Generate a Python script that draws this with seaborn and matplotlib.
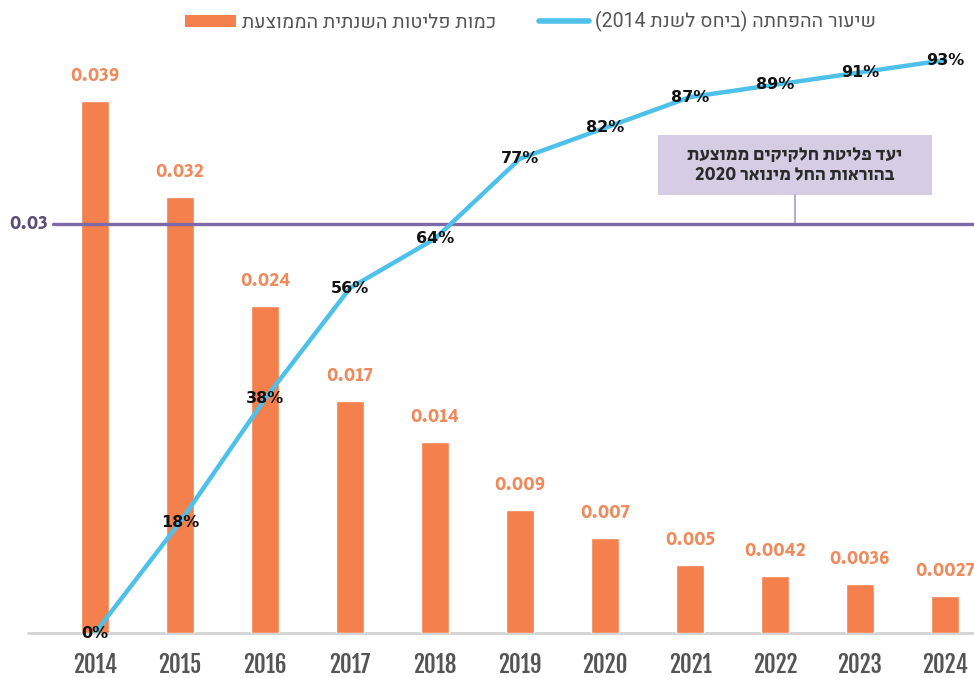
import matplotlib
matplotlib.use("Agg")
import matplotlib.pyplot as plt
import seaborn as sns
import numpy as np
import pandas as pd
import re
import logging
from matplotlib.patches import Rectangle, Patch
from matplotlib.lines import Line2D

logging.getLogger("matplotlib.font_manager").setLevel(logging.ERROR)

# ---- data ----
years = ["2014", "2015", "2016", "2017", "2018", "2019", "2020", "2021", "2022", "2023", "2024"]
emission = [0.039, 0.032, 0.024, 0.017, 0.014, 0.009, 0.007, 0.005, 0.0042, 0.0036, 0.0027]
emission_labels = ["0.039", "0.032", "0.024", "0.017", "0.014", "0.009", "0.007", "0.005", "0.0042", "0.0036", "0.0027"]
reduction_pct = [0, 18, 38, 56, 64, 77, 82, 87, 89, 91, 93]
target_value = 0.03

legend_bar = "כמות פליטות השנתית הממוצעת"
legend_line = "שיעור ההפחתה (ביחס לשנת 2014)"
target_note = ["יעד פליטת חלקיקים ממוצעת", "בהוראות החל מינואר 2020"]

# colours
ORANGE = "#F4804D"
ORANGE_TXT = "#EE8A5C"
BLUE = "#4EC1EA"
PURPLE = "#7D69A8"
PURPLE_TXT = "#5A4E78"
BOX = "#D6CDE4"
GREY_TXT = "#555555"

# font families
TICK_FONT = ["Fjalla One", "Oswald", "DejaVu Sans"]
HEB_FONT = ["Heebo", "Assistant", "DejaVu Sans"]
BOLD_FONT = ["Secular One", "DejaVu Sans"]
PCT_FONT = ["DejaVu Sans"]


def visual(s):
    """Reorder a right-to-left string for left-to-right glyph rendering."""
    r = s[::-1]
    r = re.sub(r"[0-9][0-9.,]*", lambda m: m.group(0)[::-1], r)
    return r.translate(str.maketrans("()", ")("))


sns.set_style("white")
plt.rcParams["font.family"] = ["DejaVu Sans"]

fig = plt.figure(figsize=(9.74, 6.78), dpi=100)
ax = fig.add_axes([0.0, 45 / 678, 1.0, 633 / 678])

df = pd.DataFrame({"year": years, "emission": emission, "pct": reduction_pct})
sns.barplot(data=df, x="year", y="emission", color=ORANGE, width=0.33,
            saturation=1, ax=ax, zorder=2)

ax.set_xlim(-95 / 85, 10 + 29 / 85)
ax.set_ylim(0, 633 / 13633)
for s in ax.spines.values():
    s.set_visible(False)
ax.set_yticks([])
ax.set_xlabel("")
ax.set_ylabel("")
ax.tick_params(axis="x", length=0, pad=14)
for lab in ax.get_xticklabels():
    lab.set_fontfamily(TICK_FONT)
    lab.set_fontweight("bold")
    lab.set_fontsize(16.5)
    lab.set_color(GREY_TXT)

# baseline
ax.plot([-0.79, 11], [0, 0], color="#D3D3D3", lw=2, zorder=1, clip_on=False)

# bar value labels
for i, (v, t) in enumerate(zip(emission, emission_labels)):
    ax.annotate(t, (i, v), xytext=(0, 18), textcoords="offset points",
                ha="center", va="center", color=ORANGE_TXT,
                fontsize=14, fontweight="bold", family=BOLD_FONT, zorder=5)

# target line and label
ax.plot([-0.5, 11], [target_value, target_value], color=PURPLE, lw=2.4,
        zorder=3, clip_on=True)
ax.text(-0.78, target_value, "0.03", ha="center", va="center",
        color=PURPLE_TXT, fontsize=14, fontweight="bold", family=BOLD_FONT)

# note box with connector
y_box_bot = (633 - 195) / 13633
y_box_top = (633 - 135) / 13633
x_box_l = (658 - 95) / 85
x_box_r = (932 - 95) / 85
x_mid = (x_box_l + x_box_r) / 2
ax.add_patch(Rectangle((x_box_l, y_box_bot), x_box_r - x_box_l, y_box_top - y_box_bot,
                       facecolor=BOX, edgecolor="none", zorder=2))
ax.plot([x_mid, x_mid], [target_value, y_box_bot], color="#B8B0C8", lw=1.5, zorder=2)
ax.text(x_mid, (y_box_top + y_box_bot) / 2,
        "\n".join(visual(t) for t in target_note),
        ha="center", va="center", fontsize=13.5, fontweight="bold",
        color="#2A2A2A", family=BOLD_FONT, linespacing=1.1, zorder=4)

# reduction line on twin axis
ax2 = ax.twinx()
ax2.set_ylim(0, 633 / 6.16)
sns.lineplot(x=np.arange(len(years)), y=df["pct"], color=BLUE, lw=3.2,
             ax=ax2, zorder=3)
ax2.set_xlim(ax.get_xlim())
ax2.set_yticks([])
ax2.set_ylabel("")
for s in ax2.spines.values():
    s.set_visible(False)
for i, p in enumerate(reduction_pct):
    ax2.text(i, p, f"{p}%", ha="center", va="center", fontsize=11.5,
             fontweight="bold", color="#111111", family=PCT_FONT, zorder=6)

# legend
handles = [Patch(facecolor=ORANGE, edgecolor="none"),
           Line2D([], [], color=BLUE, lw=4, solid_capstyle="round")]
labels = [visual(legend_bar), visual(legend_line)]
fig.legend(handles, labels, loc="center", bbox_to_anchor=(0.545, 0.968), ncol=2,
           frameon=False, handlelength=2.6, handleheight=0.55,
           columnspacing=2.2, handletextpad=0.3, labelcolor=GREY_TXT,
           prop={"family": HEB_FONT, "size": 14})

fig.savefig("out.png", dpi=100)
